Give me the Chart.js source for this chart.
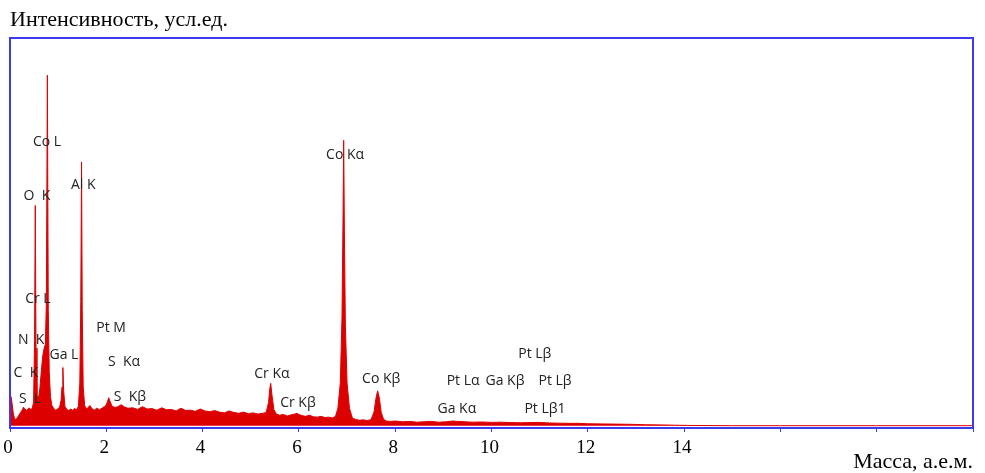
<!DOCTYPE html>
<html>
<head>
<meta charset="utf-8">
<script src="https://cdn.jsdelivr.net/npm/chart.js@4/dist/chart.umd.min.js"></script>
<style>
  html, body { margin: 0; padding: 0; background: #fff; }
  #wrap { width: 985px; height: 473px; }
</style>
</head>
<body>
<div id="wrap"><canvas id="spectrum"></canvas></div>
<script>
// энергия (кэВ) и интенсивность (усл. ед.)
const energy = [
  0, 0.02, 0.04, 0.07, 0.10, 0.14, 0.18, 0.22, 0.26, 0.28, 0.30, 0.34, 0.38, 0.40, 0.43, 0.46,
  0.49, 0.51, 0.525, 0.54, 0.56, 0.59, 0.62, 0.65, 0.68, 0.71, 0.735, 0.755, 0.776, 0.795, 0.815, 0.84, 0.87,
  0.91, 0.95, 0.99, 1.03, 1.06, 1.08, 1.098, 1.115, 1.14, 1.18, 1.22, 1.26, 1.30, 1.34, 1.38, 1.42, 1.45, 1.47, 1.486, 1.50, 1.52, 1.55,
  1.59, 1.63, 1.66, 1.70, 1.75, 1.80, 1.86, 1.92, 1.98, 2.02, 2.05, 2.08, 2.12, 2.18, 2.24, 2.31, 2.38, 2.45,
  2.55, 2.65, 2.75, 2.85, 2.95, 3.05, 3.15, 3.25, 3.35, 3.45, 3.55, 3.65, 3.75, 3.85, 3.95, 4.05, 4.15, 4.25, 4.35, 4.45, 4.55, 4.65, 4.75, 4.85, 4.95, 5.05, 5.15, 5.25,
  5.32, 5.37, 5.395, 5.415, 5.44, 5.48, 5.53, 5.60, 5.68, 5.76, 5.84, 5.92, 5.96, 6.00, 6.06, 6.14, 6.22, 6.30, 6.38, 6.46, 6.54, 6.62, 6.70,
  6.76, 6.81, 6.86, 6.895, 6.915, 6.93, 6.945, 6.965, 7.00, 7.05, 7.11, 7.18, 7.26, 7.34, 7.42, 7.50, 7.56, 7.60, 7.635, 7.67, 7.71, 7.76, 7.82, 7.90,
  8.0, 8.15, 8.3, 8.45, 8.6, 8.75, 8.9, 9.05, 9.2, 9.3, 9.45, 9.6, 9.8, 10.0, 10.2, 10.4, 10.6, 10.8, 11.0, 11.2,
  11.4, 11.6, 11.8, 12.0, 12.3, 12.6, 12.9, 13.2, 13.5, 13.8, 14.1, 14.5, 15, 16, 18, 20
];
const counts = [
  1.0, 7.5, 6.0, 3.0, 1.6, 1.8, 2.6, 3.4, 4.2, 4.8, 4.4, 4.0, 4.3, 4.6, 4.2, 4.4,
  6.0, 22, 56.8, 20, 8.0, 7.0, 9.5, 14, 18, 20, 21, 32, 90.4, 30, 14, 7.5, 5.2,
  4.4, 4.0, 4.3, 4.8, 6.5, 10, 15, 9, 5.0, 4.2, 3.9, 4.3, 4.0, 4.4, 4.1, 5.0, 11, 32, 68, 30, 10, 5.2,
  4.3, 4.8, 5.2, 4.4, 4.0, 4.5, 4.1, 4.6, 5.0, 6.0, 7.2, 6.2, 5.0, 4.7, 4.9, 5.4, 4.8, 4.5,
  4.6, 4.2, 4.9, 4.3, 4.4, 4.0, 4.6, 4.1, 4.2, 3.8, 4.5, 3.9, 4.0, 3.7, 4.3, 3.8, 3.6, 3.9, 3.5, 3.3, 3.8, 3.4, 3.2, 3.5, 3.1, 3.3, 3.0, 3.2,
  3.4, 6.0, 9.5, 10.9, 8.0, 4.2, 3.0, 2.7, 2.9, 2.5, 2.8, 3.0, 3.2, 2.9, 2.6, 2.4, 2.7, 2.3, 2.2, 2.4, 2.1, 2.2, 2.0,
  2.4, 4.5, 11, 28, 52, 73.6, 50, 26, 11, 4.5, 2.0, 1.6, 1.4, 1.5, 1.3, 1.6, 3.5, 7.0, 9.0, 7.2, 3.4, 1.6, 1.2, 1.1,
  1.2, 1.0, 1.1, 0.9, 1.0, 1.1, 0.9, 1.0, 1.2, 1.1, 1.0, 0.9, 0.95, 0.85, 0.9, 0.8, 0.75, 0.8, 0.85, 0.7,
  0.65, 0.6, 0.6, 0.5, 0.45, 0.4, 0.35, 0.25, 0.2, 0.12, 0.06, 0.03, 0, 0, 0, 0
];

// подписи линий: текст, энергия, высота
const peakNames = ['Co L', 'O  K', 'Al K', 'Cr L', 'N  K', 'C  K', 'S  L', 'Ga L', 'Pt M', 'S  Kα', 'S  Kβ',
  'Cr Kα', 'Cr Kβ', 'Co Kα', 'Co Kβ', 'Pt Lβ', 'Pt Lα', 'Ga Kβ', 'Pt Lβ', 'Ga Kα', 'Pt Lβ1'];
const peakLabelX = [0.77, 0.56, 1.52, 0.58, 0.44, 0.33, 0.42, 1.12, 2.10, 2.37, 2.49,
  5.44, 5.98, 6.96, 7.71, 10.90, 9.41, 10.28, 11.32, 9.28, 11.11];
const peakLabelY = [73.1, 59.2, 62.0, 32.8, 22.0, 13.7, 7.0, 18.1, 25.3, 16.3, 7.5,
  13.2, 5.9, 69.8, 12.1, 18.6, 11.4, 11.4, 11.4, 4.4, 4.4];

const xTicks = [0, 2, 4, 6, 8, 10, 12, 14];

const frameBlue = '#3a3af0';
const serif = '"Liberation Serif", "DejaVu Serif", serif';

// рамка вокруг области графика
const framePlugin = {
  id: 'frame',
  afterDraw(chart) {
    const a = chart.chartArea;
    const ctx = chart.ctx;
    ctx.save();
    ctx.strokeStyle = frameBlue;
    ctx.lineWidth = 2;
    ctx.strokeRect(a.left, a.top, a.right - a.left, a.bottom - a.top);
    ctx.restore();
  }
};

// подписи пиков по координатам шкал
const peakLabelsPlugin = {
  id: 'peakLabels',
  afterDatasetsDraw(chart) {
    const ctx = chart.ctx;
    const xs = chart.scales.x, ys = chart.scales.y;
    ctx.save();
    ctx.font = '14px "Open Sans", "Noto Sans", sans-serif';
    ctx.fillStyle = '#222';
    ctx.textAlign = 'center';
    ctx.textBaseline = 'middle';
    peakNames.forEach((name, i) => {
      ctx.fillText(name, xs.getPixelForValue(peakLabelX[i]), ys.getPixelForValue(peakLabelY[i]));
    });
    ctx.restore();
  }
};

const points = energy.map((e, i) => ({ x: e, y: counts[i] }));

new Chart(document.getElementById('spectrum'), {
  type: 'line',
  data: {
    datasets: [{
      data: points,
      borderColor: '#e00000',
      backgroundColor: '#dc0000',
      borderWidth: 1,
      fill: 'origin',
      pointRadius: 0,
      tension: 0
    }]
  },
  options: {
    responsive: true,
    maintainAspectRatio: false,
    animation: false,
    layout: { padding: { left: 10, right: 12, top: 0, bottom: 0 } },
    plugins: {
      legend: { display: false },
      tooltip: { enabled: false },
      title: {
        display: true,
        text: 'Интенсивность, усл.ед.',
        align: 'start',
        color: '#000',
        font: { family: serif, size: 22, weight: 'normal', lineHeight: 1 },
        padding: { top: 9.5, bottom: 6.5 }
      }
    },
    scales: {
      x: {
        type: 'linear',
        min: 0,
        max: 20,
        afterBuildTicks(scale) {
          scale.ticks = [0, 2, 4, 6, 8, 10, 12, 14, 16, 18, 20].map(v => ({ value: v }));
        },
        afterFit(scale) {
          scale.height = 45;
          scale.paddingLeft = 0;
          scale.paddingRight = 0;
        },
        ticks: {
          autoSkip: false,
          maxRotation: 0,
          padding: 7,
          labelOffset: -2,
          color: '#000',
          font: { family: serif, size: 19, lineHeight: 1 },
          callback: v => xTicks.includes(v) ? String(v) : ''
        },
        grid: { display: true, drawOnChartArea: false, tickLength: 4, color: frameBlue },
        border: { color: frameBlue, width: 2 },
        title: {
          display: true,
          text: 'Масса, а.е.м.',
          align: 'end',
          color: '#000',
          font: { family: serif, size: 22, lineHeight: 1 },
          padding: { top: 0, bottom: 0 }
        }
      },
      y: {
        display: false,
        min: -0.6,
        max: 100
      }
    }
  },
  plugins: [framePlugin, peakLabelsPlugin]
});
</script>
</body>
</html>
